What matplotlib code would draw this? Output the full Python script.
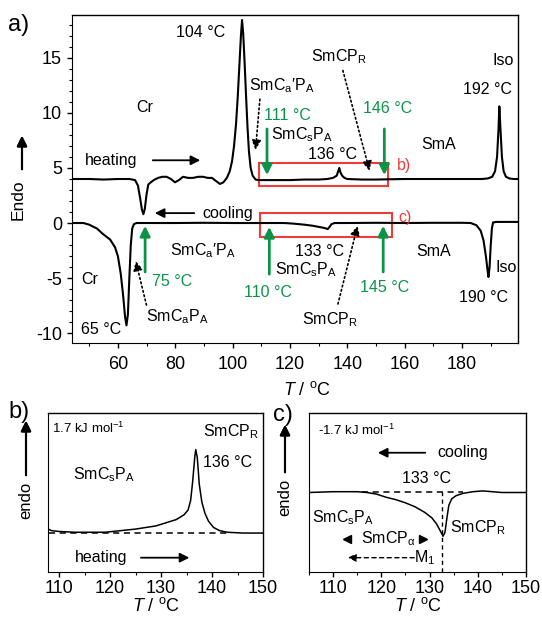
import matplotlib
matplotlib.use("Agg")
import matplotlib.pyplot as plt
from matplotlib.patches import Rectangle
from matplotlib.ticker import MultipleLocator, NullLocator

plt.rcParams["font.family"] = ["Liberation Sans", "DejaVu Sans"]
plt.rcParams["mathtext.fontset"] = "custom"
plt.rcParams["mathtext.rm"] = "Liberation Sans"
plt.rcParams["mathtext.it"] = "Liberation Sans:italic"
plt.rcParams["axes.unicode_minus"] = False

GREEN = "#0b9447"
RED = "#ee3b3b"

# a) full DSC trace
heat_T = [44, 50, 55, 60, 64, 66, 67, 67.8, 68.4, 68.9, 69.4, 70, 70.6, 71.5, 72.5, 74,
          75.5, 77, 78.5, 79.9, 81.3, 82.7, 84.5, 86.2, 88, 89.7, 91.3, 92.8, 94.3, 95.6,
          96.8, 98, 99, 99.8, 100.5, 101.2, 101.8, 102.4, 102.9, 103.3, 103.7, 104.2,
          104.7, 105.2, 105.7, 106.3, 107, 108, 109, 115, 120, 125, 130, 133, 135, 136.3,
          136.8, 137.2, 137.6, 138.2, 139, 140, 145, 150, 160, 170, 180, 187, 189, 190.5,
          191.5, 192.2, 192.7, 193.0, 193.4, 193.9, 194.5, 195.3, 196.5, 198, 200]
heat_E = [4.0, 4.0, 3.95, 4.0, 4.0, 3.9, 3.4, 2.2, 1.2, 0.8, 1.3, 2.6, 3.5, 3.7, 3.9, 4.1,
          4.2, 4.2, 4.0, 3.7, 3.9, 4.2, 4.1, 4.1, 4.2, 4.2, 4.1, 4.1, 3.8, 3.55,
          3.7, 4.1, 4.7, 5.6, 7.0, 9.0, 11.5, 14.5, 17.0, 18.45, 17.2, 14.5,
          11.5, 8.7, 6.5, 5.0, 4.3, 3.95, 3.9, 3.9, 3.9, 3.95, 3.95, 4.0, 4.1, 4.3,
          4.7, 5.0, 4.6, 4.3, 4.1, 4.0, 3.95, 3.95, 4.0, 4.0, 4.0, 4.0, 4.05, 4.2,
          4.7, 6.0, 8.5, 10.6, 8.5, 6.0, 4.7, 4.2, 4.05, 4.0, 4.0]

cool_T = [44, 48, 50, 52.7, 54.8, 57.3, 59, 60, 61, 61.8, 62.5, 63.0, 63.5, 64.0, 64.5,
          65.0, 65.6, 66.5, 70, 80, 90, 100, 110, 118, 121, 125, 128, 130, 132, 133.2,
          133.8, 134.5, 135.5, 140, 150, 160, 170, 180, 183, 185, 186.5, 187.5, 188.3,
          188.9, 189.2, 189.6, 190, 190.4, 190.8, 192, 195, 200]
cool_E = [0, 0, -0.15, -0.5, -1.0, -1.5, -2.2, -3.0, -4.6, -6.5, -8.5, -9.3, -8.3, -5.0, -2.0,
          -0.5, -0.1, 0.0, 0, 0, 0.02, 0, 0, 0, -0.05, -0.15, -0.25, -0.35, -0.45, -0.55,
          -0.35, -0.1, 0, 0, 0.02, 0, 0.02, 0.02, 0, -0.2, -0.7, -1.6, -3.0,
          -4.3, -4.9, -4.0, -2.0, -0.5, 0.05, 0.1, 0.1, 0.1]

# b) zoom of heating, 108-150 °C
b_T = [107.8, 108.5, 110, 113, 116, 119, 122, 125, 127, 129, 131, 133, 134.5, 135.3, 135.8,
       136.2, 136.6, 136.8, 137.1, 137.5, 138, 138.6, 139.3, 140.3, 141.5, 143, 146, 150]
b_E = [0.27, 0.26, 0.255, 0.25, 0.25, 0.25, 0.26, 0.27, 0.28, 0.29, 0.31, 0.33, 0.36, 0.39, 0.45,
       0.57, 0.72, 0.77, 0.72, 0.55, 0.44, 0.37, 0.32, 0.28, 0.26, 0.25, 0.245, 0.245]

# c) zoom of cooling, 105-150 °C
c_T = [105, 110, 115, 117, 119, 121, 123, 125, 127, 129, 130.5, 131.5, 132.2, 132.8, 133.2,
       133.6, 134, 134.6, 135.5, 137, 139, 141, 145, 150]
c_E = [0.5, 0.505, 0.505, 0.5, 0.49, 0.47, 0.455, 0.435, 0.41, 0.375, 0.34, 0.3, 0.26, 0.225, 0.25,
       0.34, 0.42, 0.46, 0.48, 0.495, 0.505, 0.51, 0.5, 0.5]

fig = plt.figure(figsize=(5.42, 6.2), dpi=100)
ax = fig.add_axes([0.1328, 0.4468, 0.8229, 0.5290])
axb = fig.add_axes([0.0886, 0.0774, 0.3966, 0.2565])
axc = fig.add_axes([0.5701, 0.0774, 0.4004, 0.2565])

for a in (ax, axb, axc):
    a.spines["top"].set_linewidth(1.0)
    a.spines["right"].set_linewidth(1.0)
    a.tick_params(direction="out", labelsize=13, length=3.6, width=1, top=False, right=False)
    a.tick_params(which="minor", direction="out", length=2.2, width=0.8)
ax.tick_params(axis="x", pad=6)
axb.tick_params(axis="x", pad=2.5)
axc.tick_params(axis="x", pad=2.5)

# ---- panel a
ax.plot(heat_T, heat_E, color="black", lw=1.5)
ax.plot(cool_T, cool_E, color="black", lw=1.5)
ax.set_xlim(44, 199.5)
ax.set_ylim(-10.9, 18.9)
ax.xaxis.set_major_locator(MultipleLocator(20))
ax.xaxis.set_minor_locator(MultipleLocator(10))
ax.yaxis.set_major_locator(MultipleLocator(5))
ax.yaxis.set_minor_locator(MultipleLocator(1))
ax.set_xlabel("$T$ / $^{\\mathrm{o}}$C", fontsize=13, labelpad=0)
ax.xaxis.set_label_coords(0.527, -0.115)

ax.add_patch(Rectangle((109.3, 3.4), 45.0, 2.05, fill=False, edgecolor=RED, lw=1.5))
ax.add_patch(Rectangle((109.6, -1.3), 46.1, 2.2, fill=False, edgecolor=RED, lw=1.5))

fs = 11.5
def t(x, y, s, **kw):
    ax.text(x, y, s, ha="center", va="center", fontsize=kw.pop("fontsize", fs), **kw)

t(88.7, 17.3, "104 °C")
t(69.5, 10.5, "Cr")
t(57.7, 5.7, "heating")
t(117.3, 12.5, "SmC$_\\mathrm{a}$′P$_\\mathrm{A}$")
t(119, 9.8, "111 °C", color=GREEN)
t(124.3, 8.0, "SmC$_\\mathrm{s}$P$_\\mathrm{A}$")
t(134.8, 6.2, "136 °C")
t(136.9, 15.1, "SmCP$_\\mathrm{R}$")
t(153.9, 10.45, "146 °C", color=GREEN)
t(171.8, 7.1, "SmA")
t(194.4, 14.8, "Iso")
t(188.9, 12.1, "192 °C")
t(159.9, 5.2, "b)", color=RED)
t(98.4, 0.9, "cooling")
t(160.2, 0.5, "c)", color=RED)
t(89.7, -2.5, "SmC$_\\mathrm{a}$′P$_\\mathrm{A}$")
t(50.3, -5.1, "Cr")
t(78.9, -5.3, "75 °C", color=GREEN)
t(54.1, -9.7, "65 °C")
t(80.6, -8.5, "SmC$_\\mathrm{a}$P$_\\mathrm{A}$")
t(112.4, -6.3, "110 °C", color=GREEN)
t(125.7, -4.2, "SmC$_\\mathrm{s}$P$_\\mathrm{A}$")
t(130.3, -2.6, "133 °C")
t(152.9, -5.9, "145 °C", color=GREEN)
t(134, -8.8, "SmCP$_\\mathrm{R}$")
t(169.9, -2.6, "SmA")
t(195.5, -4.0, "Iso")
t(187.5, -6.8, "190 °C")

solid = dict(arrowstyle="-|>", color="black", lw=1.3, mutation_scale=14)
ax.annotate("", xy=(89.7, 5.7), xytext=(71.2, 5.7), arrowprops=solid)
ax.annotate("", xy=(71.9, 0.9), xytext=(87.6, 0.9), arrowprops=solid)

dotted = dict(arrowstyle="-|>", color="black", lw=1.2, ls=":", mutation_scale=14)
ax.annotate("", xy=(107.9, 6.4), xytext=(109.6, 11.5), arrowprops=dotted)
ax.annotate("", xy=(148, 4.5), xytext=(138.2, 14.1), arrowprops=dotted)
ax.annotate("", xy=(66, -3.2), xytext=(70.2, -7.7), arrowprops=dotted)
ax.annotate("", xy=(143.8, 0), xytext=(136.5, -7.6), arrowprops=dotted)

green = dict(arrowstyle="-|>", color=GREEN, lw=2, mutation_scale=15)
for x0, y0, y1 in [(112, 8.8, 4.1), (152.9, 8.8, 4.1), (69.5, -4.7, 0),
                   (112.8, -4.9, -0.1), (152.5, -4.7, 0)]:
    ax.annotate("", xy=(x0, y1), xytext=(x0, y0), arrowprops=green)

fig.text(8 / 542, 1 - 25 / 620, "a)", fontsize=17, va="center")
fig.text(18 / 542, 1 - 200 / 620, "Endo", rotation=90, fontsize=12.5, ha="center", va="center")
fig.add_artist(plt.annotate("", xy=(22 / 542, 1 - 133 / 620), xytext=(22 / 542, 1 - 172 / 620),
                            xycoords="figure fraction", textcoords="figure fraction",
                            arrowprops=dict(arrowstyle="-|>", color="black", lw=1.5, mutation_scale=15)))

# ---- panel b
axb.plot(b_T, b_E, color="black", lw=1.1)
axb.plot([108, 143], [0.245, 0.245], color="black", lw=1.1, ls=(0, (4, 3)))
axb.set_xlim(107.8, 150)
axb.set_ylim(0, 1)
axb.xaxis.set_major_locator(MultipleLocator(10))
axb.xaxis.set_minor_locator(MultipleLocator(5))
axb.yaxis.set_major_locator(NullLocator())
axb.set_xlabel("$T$ / $^{\\mathrm{o}}$C", fontsize=13, labelpad=0)
axb.text(108.6, 0.9, "1.7 kJ mol$^{-1}$", fontsize=9.5, va="center")
axb.text(138.2, 0.88, "SmCP$_\\mathrm{R}$", fontsize=11.5, va="center")
axb.text(138.2, 0.69, "136 °C", fontsize=11.5, va="center")
axb.text(112.7, 0.61, "SmC$_\\mathrm{s}$P$_\\mathrm{A}$", fontsize=11.5, va="center")
axb.text(113.1, 0.09, "heating", fontsize=11.5, va="center")
axb.annotate("", xy=(136.1, 0.09), xytext=(125.5, 0.09), arrowprops=solid)

fig.text(8 / 542, 1 - 412 / 620, "b)", fontsize=17, va="center")
fig.text(26 / 542, 1 - 500 / 620, "endo", rotation=90, fontsize=12, ha="center", va="center")
fig.add_artist(plt.annotate("", xy=(26 / 542, 1 - 418 / 620), xytext=(26 / 542, 1 - 478 / 620),
                            xycoords="figure fraction", textcoords="figure fraction",
                            arrowprops=dict(arrowstyle="-|>", color="black", lw=1.5, mutation_scale=15)))

# ---- panel c
axc.plot(c_T, c_E, color="black", lw=1.1)
axc.plot([116, 137], [0.5, 0.5], color="black", lw=1.1, ls=(0, (4, 3)))
axc.plot([132.6, 132.6], [0, 0.5], color="black", lw=1.0, ls=(0, (3, 2.5)))
axc.set_xlim(105, 150)
axc.set_ylim(0, 1)
axc.xaxis.set_major_locator(MultipleLocator(10))
axc.xaxis.set_minor_locator(MultipleLocator(5))
axc.yaxis.set_major_locator(NullLocator())
axc.set_xlabel("$T$ / $^{\\mathrm{o}}$C", fontsize=13, labelpad=0)
axc.text(106.9, 0.89, "-1.7 kJ mol$^{-1}$", fontsize=9.5, va="center")
axc.text(131.6, 0.75, "cooling", fontsize=11.5, va="center")
axc.annotate("", xy=(118.7, 0.75), xytext=(129.7, 0.75), arrowprops=solid)
axc.text(129.3, 0.59, "133 °C", fontsize=11.5, ha="center", va="center")
axc.text(105.6, 0.34, "SmC$_\\mathrm{s}$P$_\\mathrm{A}$", fontsize=11.5, va="center")
axc.text(134.3, 0.28, "SmCP$_\\mathrm{R}$", fontsize=11.5, va="center")
axc.text(121.4, 0.21, "SmCP$_\\mathrm{\\alpha}$", fontsize=11.5, ha="center", va="center")
axc.plot([112.9], [0.21], marker="<", color="black", ms=6)
axc.plot([128.6], [0.21], marker=">", color="black", ms=6)
axc.text(129.0, 0.09, "M$_\\mathrm{1}$", fontsize=11.5, ha="center", va="center")
axc.annotate("", xy=(112.5, 0.09), xytext=(127.4, 0.09),
             arrowprops=dict(arrowstyle="-|>", color="black", lw=1.0, ls=(0, (3, 2.5)),
                             mutation_scale=12))

fig.text(273 / 542, 1 - 415 / 620, "c)", fontsize=17, va="center")
fig.text(285 / 542, 1 - 497 / 620, "endo", rotation=90, fontsize=12, ha="center", va="center")
fig.add_artist(plt.annotate("", xy=(285 / 542, 1 - 422 / 620), xytext=(285 / 542, 1 - 475 / 620),
                            xycoords="figure fraction", textcoords="figure fraction",
                            arrowprops=dict(arrowstyle="-|>", color="black", lw=1.5, mutation_scale=15)))

fig.savefig("out.png", dpi=100)
